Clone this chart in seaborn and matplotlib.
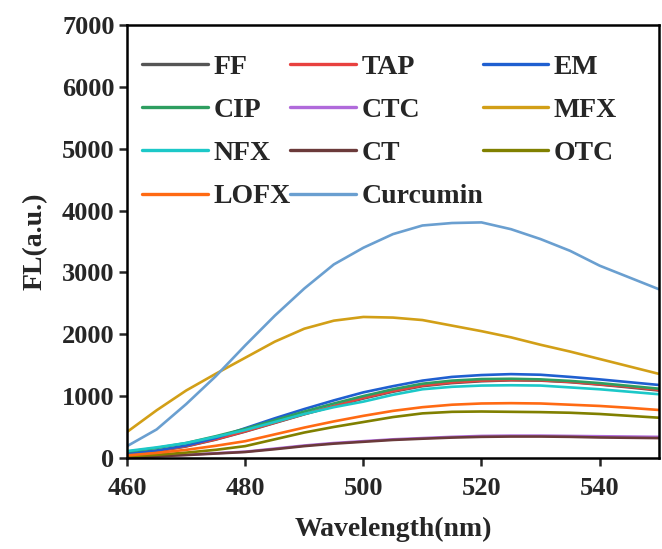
import pandas as pd
import matplotlib
matplotlib.use('Agg')
import matplotlib.pyplot as plt
import seaborn as sns

# Wavelength grid (nm) and fluorescence intensities
wavelength = [460, 465, 470, 475, 480, 485, 490, 495, 500, 505,
              510, 515, 520, 525, 530, 535, 540, 545, 550]

ff = [55, 105, 185, 295, 425, 565, 705, 835, 960, 1070,
      1160, 1210, 1240, 1255, 1250, 1225, 1185, 1140, 1090]
tap = [60, 110, 190, 300, 430, 570, 710, 840, 970, 1080,
       1170, 1220, 1250, 1260, 1255, 1230, 1190, 1150, 1100]
em = [70, 120, 200, 320, 480, 640, 790, 930, 1060, 1160,
      1250, 1310, 1340, 1355, 1345, 1310, 1270, 1225, 1180]
cip = [100, 160, 240, 350, 470, 610, 750, 880, 1000, 1110,
       1200, 1250, 1275, 1280, 1270, 1245, 1210, 1165, 1120]
ctc = [15, 30, 50, 75, 100, 150, 200, 240, 270, 300,
       320, 340, 355, 360, 360, 355, 350, 345, 340]
mfx = [420, 770, 1090, 1360, 1620, 1880, 2090, 2220, 2280, 2270,
       2230, 2140, 2050, 1950, 1830, 1720, 1600, 1480, 1360]
nfx = [110, 170, 240, 340, 450, 580, 710, 820, 910, 1020,
       1110, 1150, 1170, 1175, 1170, 1140, 1110, 1070, 1030]
ct = [10, 25, 45, 70, 95, 140, 190, 230, 260, 290,
      310, 328, 340, 345, 345, 340, 330, 325, 320]
otc = [25, 50, 85, 130, 190, 300, 410, 500, 580, 660,
       720, 745, 750, 745, 740, 730, 710, 680, 650]
lofx = [40, 80, 130, 195, 270, 380, 490, 590, 680, 760,
        820, 860, 880, 885, 880, 860, 840, 810, 775]
curcumin = [190, 460, 870, 1320, 1820, 2300, 2740, 3130, 3400, 3620,
            3760, 3800, 3810, 3700, 3540, 3350, 3110, 2920, 2730]

names = ['FF', 'TAP', 'EM', 'CIP', 'CTC', 'MFX', 'NFX', 'CT', 'OTC', 'LOFX', 'Curcumin']
series = [ff, tap, em, cip, ctc, mfx, nfx, ct, otc, lofx, curcumin]
colors = ['#555555', '#E8413F', '#1F5FD0', '#2E9E60', '#B06ADB', '#D29F17',
          '#1CC8C8', '#6B3A3A', '#808000', '#FF6A13', '#6A9FD0']

rows = []
for name, vals in zip(names, series):
    for w, v in zip(wavelength, vals):
        rows.append({'Wavelength': w, 'FL': v, 'Sample': name})
df = pd.DataFrame(rows)

sns.set_style('ticks')
plt.rcParams['font.family'] = ['Liberation Serif', 'DejaVu Serif']
plt.rcParams['font.weight'] = 'bold'

fig = plt.figure(figsize=(6.62, 5.49), dpi=100)
ax = fig.add_axes([0.192, 0.166, 0.803, 0.788])

sns.lineplot(data=df, x='Wavelength', y='FL', hue='Sample', hue_order=names,
             palette=dict(zip(names, colors)), linewidth=1.9, ax=ax, legend=False)

ax.set_xlim(460, 550)
ax.set_ylim(0, 7000)
ax.set_xticks([460, 480, 500, 520, 540])
ax.set_yticks(range(0, 7001, 1000))
ax.tick_params(direction='out', length=6, width=1.8, labelsize=19, pad=3)
ax.tick_params(axis='x', pad=8)
for lab in ax.get_xticklabels() + ax.get_yticklabels():
    lab.set_fontweight('bold')
for sp in ax.spines.values():
    sp.set_linewidth(1.8)
    sp.set_color('black')

ax.set_xlabel('Wavelength(nm)', fontsize=20, fontweight='bold', labelpad=12)
ax.set_ylabel('FL(a.u.)', fontsize=20, fontweight='bold', labelpad=10)

# legend, filled row-wise like the original
handles = {name: plt.Line2D([], [], color=c, linewidth=2.4) for name, c in zip(names, colors)}
order = ['FF', 'CIP', 'NFX', 'LOFX', 'TAP', 'CTC', 'CT', 'Curcumin', 'EM', 'MFX', 'OTC']
ax.legend([handles[n] for n in order], order, ncol=3, frameon=False,
          loc='upper left', bbox_to_anchor=(-0.008, 0.978), borderaxespad=0.3,
          prop={'weight': 'bold', 'size': 20}, handlelength=2.35,
          handletextpad=0.2, columnspacing=0.0, labelspacing=0.64)

fig.savefig('out.png', dpi=100)
